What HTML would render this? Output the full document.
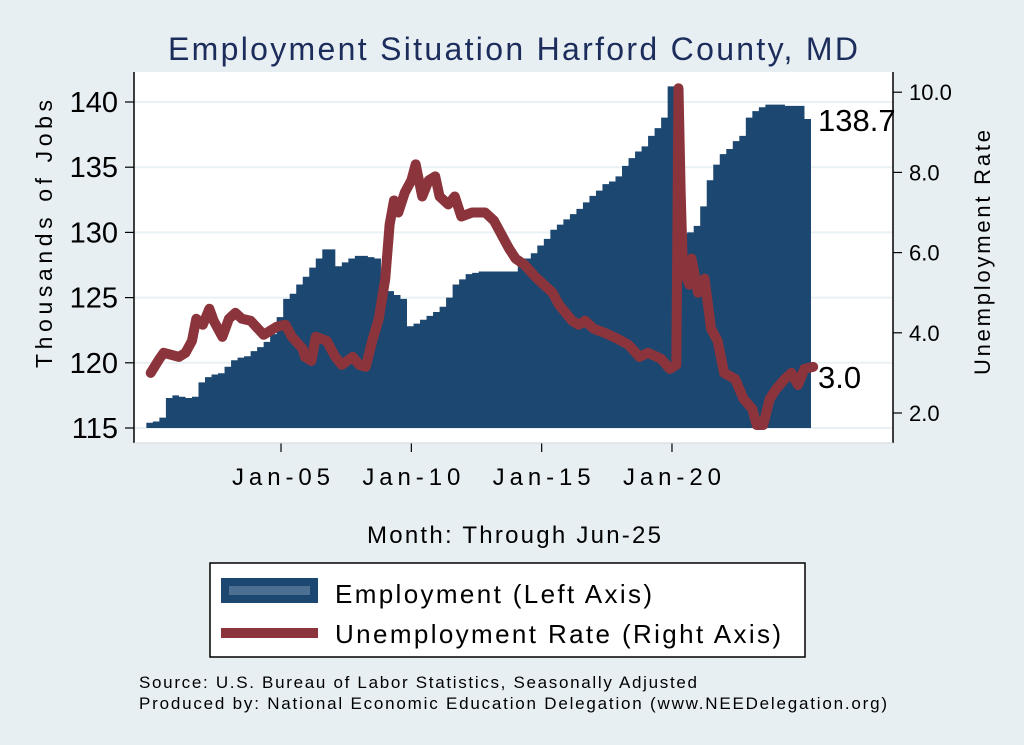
<!DOCTYPE html>
<html><head><meta charset="utf-8"><style>
body{margin:0;background:#e8eff3;}
svg{display:block;font-family:"Liberation Sans",Arial,sans-serif;}
</style></head><body>
<svg id="chart" width="1024" height="745" viewBox="0 0 1024 745" xmlns="http://www.w3.org/2000/svg">
<rect x="0" y="0" width="1024" height="745" fill="#e8eff3"/>
<text x="168" y="60" font-size="32" fill="#1c2d5c" textLength="690" lengthAdjust="spacing">Employment Situation Harford  County, MD</text>
<rect x="134" y="72" width="759" height="371" fill="#ffffff"/>
<g id="grid"></g>
<g id="bars"></g>
<g id="line"></g>
<g id="axes"></g>
<text x="52" y="368" font-size="23" fill="#000" textLength="268" lengthAdjust="spacing" transform="rotate(-90 52 368)">Thousands of Jobs</text>
<text x="990" y="375" font-size="22" fill="#000" textLength="245" lengthAdjust="spacing" transform="rotate(-90 990 375)">Unemployment Rate</text>
<text x="367" y="543" font-size="24" fill="#000" textLength="294" lengthAdjust="spacing">Month: Through Jun-25</text>
<g>
<rect x="210" y="563" width="595" height="94" fill="#fff" stroke="#000" stroke-width="1.5"/>
<rect x="221" y="578" width="97" height="25" fill="#1c4770"/>
<rect x="229" y="586" width="81" height="9" fill="#4d6f92"/>
<text x="335" y="603" font-size="26" fill="#000" textLength="317" lengthAdjust="spacing">Employment (Left Axis)</text>
<line x1="221" y1="633" x2="318" y2="633" stroke="#8c343c" stroke-width="10"/>
<text x="335" y="643" font-size="26" fill="#000" textLength="446" lengthAdjust="spacing">Unemployment Rate (Right Axis)</text>
</g>
<text x="139" y="688" font-size="17" fill="#000" textLength="558" lengthAdjust="spacing">Source: U.S. Bureau of Labor Statistics, Seasonally Adjusted</text>
<text x="139" y="709" font-size="17" fill="#000" textLength="748" lengthAdjust="spacing">Produced by: National Economic Education Delegation (www.NEEDelegation.org)</text>
</svg>
<script>
// Employment (thousands), quarterly from 2000Q1 through 2025Q2
const empValues = [
115.4,115.5,115.8,117.3, 117.5,117.4,117.3,117.4, 118.5,118.9,119.1,119.2, 119.7,120.2,120.4,120.5,
120.9,121.2,121.6,122.2, 123.5,124.9,125.3,126.0, 126.6,127.3,128.0,128.7, 128.7,127.4,127.7,128.0,
128.2,128.2,128.1,128.0, 125.8,125.5,125.2,124.9, 122.8,123.0,123.3,123.6, 123.9,124.3,125.0,126.0,
126.4,126.8,126.9,127.0, 127.0,127.0,127.0,127.0, 127.0,127.5,128.0,128.4, 129.0,129.5,130.2,130.6,
131.0,131.4,131.8,132.3, 132.8,133.2,133.7,133.9, 134.3,135.1,135.7,136.2, 136.6,137.4,138.0,138.8,
141.2,126.0,129.9,130.0, 130.5,132.0,134.0,135.2, 136.0,136.4,137.0,137.4, 138.8,139.3,139.6,139.8,
139.8,139.8,139.7,139.7, 139.7,138.7];
// Unemployment rate: months since Jan 2000 and rate (%)
const urMonths = [0,4,6,13,16,19,21,24,27,29,33,36,39,42,46,52,58,62,65,70,71,74,76,81,85,88,93,96,99,102,105,108,110,112,114,117,120,122,125,128,131,133,137,140,143,148,154,158,162,165,168,172,177,181,185,188,191,194,197,200,204,209,215,220,225,229,235,239,242,243,244,245,248,249,252,255,258,261,264,269,273,277,279,282,285,288,292,295,298,301,305];
const urValues = [3.0,3.35,3.5,3.4,3.5,3.8,4.35,4.2,4.6,4.3,3.9,4.35,4.5,4.35,4.3,3.95,4.15,4.2,3.9,3.6,3.4,3.3,3.9,3.8,3.4,3.2,3.4,3.2,3.15,3.8,4.35,5.35,6.7,7.3,7.0,7.5,7.8,8.2,7.4,7.8,7.9,7.4,7.2,7.4,6.9,7.0,7.0,6.8,6.4,6.1,5.85,5.7,5.4,5.2,5.0,4.7,4.5,4.3,4.2,4.3,4.1,4.0,3.85,3.7,3.4,3.5,3.35,3.1,3.2,10.1,7.5,5.6,5.2,5.85,5.0,5.35,4.1,3.8,3.0,2.85,2.35,2.1,1.7,1.7,2.35,2.6,2.85,3.0,2.7,3.1,3.15];
const leftTicks = [115,120,125,130,135,140];
const rightTicks = [2,4,6,8,10];
const xTickLabels = ["Jan-05","Jan-10","Jan-15","Jan-20"];
const xTickMonths = [60,120,180,240];
const lastEmpLabel = "138.7";
const lastUrLabel = "3.0";

const NS="http://www.w3.org/2000/svg";
const xM = m => 150.7 + 2.172*m;
const yL = v => 428 - (v-115)*13.04;
const yR = r => 413 - (r-2)*40.1;
function mk(tag, attrs, parent){const e=document.createElementNS(NS,tag);for(const k in attrs)e.setAttribute(k,attrs[k]);parent.appendChild(e);return e;}
const grid=document.getElementById('grid'), bars=document.getElementById('bars'), line=document.getElementById('line'), axes=document.getElementById('axes');

leftTicks.forEach(t=>{
  const g=mk('line',{x1:134,x2:893,y1:yL(t),y2:yL(t),stroke:'#eaf1f4','stroke-width':2},grid);
  
  
  const tk=mk('line',{x1:125,x2:134,y1:yL(t),y2:yL(t),stroke:'#000','stroke-width':1.2},axes);
  
  
  const tx=mk('text',{x:118,y:yL(t)+10,'text-anchor':'end','font-size':29,fill:'#000'},axes);
  tx.textContent=t;
  
  
});
rightTicks.forEach(t=>{
  const tk=mk('line',{x1:893,x2:902,y1:yR(t),y2:yR(t),stroke:'#000','stroke-width':1.2},axes);
  
  
  const tx=mk('text',{x:909,y:yR(t)+8,'font-size':22,fill:'#000'},axes);
  tx.textContent=t.toFixed(1);
  
  
});
xTickMonths.forEach((m,i)=>{
  const tk=mk('line',{x1:xM(m),x2:xM(m),y1:443,y2:452,stroke:'#000','stroke-width':1.2},axes);
  
  
  const tx=mk('text',{x:xM(m)-49,y:485,'font-size':24,fill:'#000',textLength:98,lengthAdjust:'spacing'},axes);
  tx.textContent=xTickLabels[i];
  
  
});
const la=mk('line',{x1:134,x2:134,y1:72,y2:443,stroke:'#000','stroke-width':1.5},axes);


const ra=mk('line',{x1:893,x2:893,y1:72,y2:443,stroke:'#000','stroke-width':1.5},axes);


const ba=mk('line',{x1:134,x2:893,y1:443,y2:443,stroke:'#cfd6da','stroke-width':1},axes);



// employment step area
let d='M'+xM(-2)+' '+yL(115);
empValues.forEach((v,i)=>{
  const x0=xM(i*3-2), x1=xM(i*3+1);
  d+=' L'+x0+' '+yL(v)+' L'+x1+' '+yL(v);
});
d+=' L'+xM(empValues.length*3-2)+' '+yL(115)+' Z';
const area=mk('path',{d:d,fill:'#1c4770'},bars);



// unemployment line
const pts=urMonths.map((m,i)=>xM(m)+','+yR(urValues[i])).join(' ');
const pl=mk('polyline',{points:pts,fill:'none',stroke:'#8c343c','stroke-width':10,'stroke-linejoin':'round','stroke-linecap':'round'},line);



const l1=mk('text',{x:818,y:yL(empValues[empValues.length-1])+12,'font-size':31,fill:'#000'},axes);
l1.textContent=lastEmpLabel;


const l2=mk('text',{x:818,y:yR(urValues[urValues.length-1])+21,'font-size':31,fill:'#000'},axes);
l2.textContent=lastUrLabel;


</script>
</body></html>
